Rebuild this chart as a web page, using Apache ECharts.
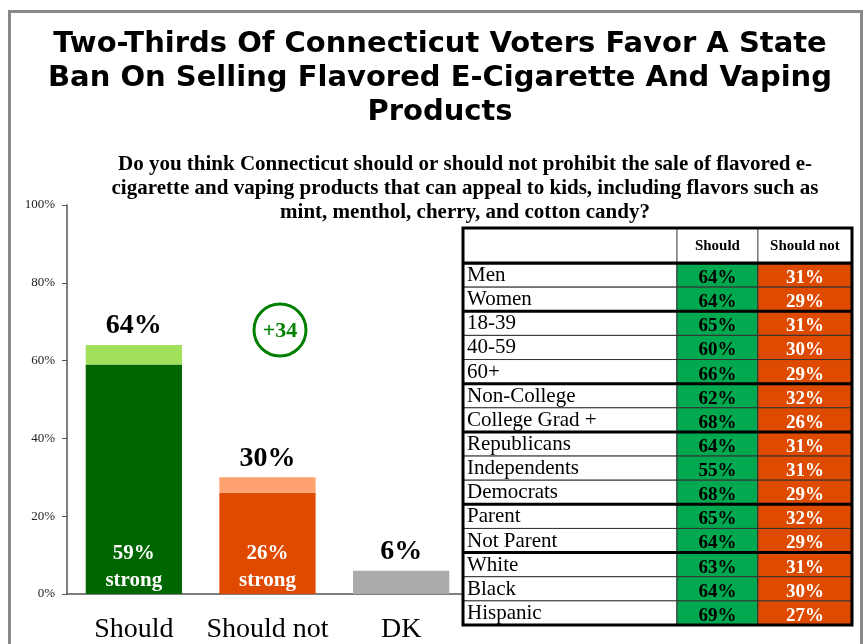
<!DOCTYPE html>
<html><head><meta charset="utf-8">
<script src="https://cdn.jsdelivr.net/npm/echarts@6/dist/echarts.min.js"></script>
<style>html,body{margin:0;padding:0;background:#fff}#c{width:866px;height:644px}</style>
</head><body><div id="c"></div>
<script>
// ---- data ----
var categories = ['Should', 'Should not', 'DK'];
var totals = [64, 30, 6];
var strong = [59, 26, null];
var yTickLabels = ['0%', '20%', '40%', '60%', '80%', '100%'];
var tableHeader = ['Should', 'Should not'];
var rowLabels = ['Men', 'Women', '18-39', '40-59', '60+', 'Non-College', 'College Grad +', 'Republicans', 'Independents', 'Democrats', 'Parent', 'Not Parent', 'White', 'Black', 'Hispanic'];
var rowShould = [64, 64, 65, 60, 66, 62, 68, 64, 55, 68, 65, 64, 63, 64, 69];
var rowShouldNot = [31, 29, 31, 30, 29, 32, 26, 31, 31, 29, 32, 29, 31, 30, 27];
var groupStarts = [0, 2, 5, 7, 10, 12];

// ---- styles ----
var SERIF = '"Liberation Serif", "Times New Roman", serif';
var baseColors = ['#006600', '#e04a00', '#aaaaaa'];
var softColors = ['#a0e05a', '#ffa270', '#aaaaaa'];
var cellGreen = '#00a84f', cellRed = '#dd4a00';

var chart = echarts.init(document.getElementById('c'), null, {renderer: 'canvas'});

var baseData = categories.map(function (c, i) {
  var hasStrong = strong[i] != null;
  var v = hasStrong ? strong[i] : totals[i];
  var item = {value: v, itemStyle: {color: baseColors[i]}};
  if (hasStrong) {
    item.label = {show: true, position: 'insideBottom', distance: 0,
      formatter: strong[i] + '%\nstrong', color: '#fff', fontFamily: SERIF,
      fontWeight: 'bold', fontSize: 21, lineHeight: 27};
  } else {
    item.label = {show: true, position: 'top', distance: 5,
      formatter: totals[i] + '%', color: '#000', fontFamily: SERIF,
      fontWeight: 'bold', fontSize: 28};
  }
  return item;
});
var softData = categories.map(function (c, i) {
  if (strong[i] == null) return null;
  return {value: totals[i] - strong[i], itemStyle: {color: softColors[i]},
    label: {show: true, position: 'top', distance: 5, formatter: totals[i] + '%',
      color: '#000', fontFamily: SERIF, fontWeight: 'bold', fontSize: 28}};
});

var tableData = rowLabels.map(function (l, i) { return [0, i, rowShould[i], rowShouldNot[i]]; });
var colFrac = [0, 0.550, 0.758, 1];

function renderRow(params, api) {
  var cs = params.coordSys;
  var i = api.value(1);
  var c = api.coord([0, i]);
  var h = api.size([0, 1])[1];
  var top = c[1] - h / 2;
  var xs = colFrac.map(function (f) { return cs.x + f * cs.width; });
  var children = [];
  var fills = ['#ffffff', cellGreen, cellRed];
  for (var k = 0; k < 3; k++) {
    children.push({type: 'rect', shape: {x: xs[k], y: top, width: xs[k + 1] - xs[k], height: h},
      style: {fill: fills[k], stroke: '#333', lineWidth: 1}});
  }
  children.push({type: 'text', style: {x: xs[0] + 4, y: c[1] + 0.5, text: rowLabels[i],
    fontFamily: SERIF, fontSize: 21, fill: '#000', verticalAlign: 'middle', align: 'left'}});
  children.push({type: 'text', style: {x: (xs[1] + xs[2]) / 2, y: c[1] + 3, text: api.value(2) + '%',
    fontFamily: SERIF, fontWeight: 'bold', fontSize: 19, fill: '#000', verticalAlign: 'middle', align: 'center'}});
  children.push({type: 'text', style: {x: (xs[2] + xs[3]) / 2, y: c[1] + 3, text: api.value(3) + '%',
    fontFamily: SERIF, fontWeight: 'bold', fontSize: 19, fill: '#fff', verticalAlign: 'middle', align: 'center'}});
  if (groupStarts.indexOf(i) >= 0) {
    children.push({type: 'line', shape: {x1: xs[0], y1: top, x2: xs[3], y2: top},
      style: {stroke: '#000', lineWidth: 3}});
  }
  return {type: 'group', children: children};
}

var option = {
  backgroundColor: '#fff',
  animation: false,
  title: [{
    text: 'Two-Thirds Of Connecticut Voters Favor A State\nBan On Selling Flavored E-Cigarette And Vaping\nProducts',
    left: 440, top: 27, textAlign: 'center', padding: 0,
    textStyle: {fontFamily: '"DejaVu Sans", sans-serif', fontWeight: 'bold',
      fontSize: 29, lineHeight: 34, color: '#000'}
  }, {
    text: 'Do you think Connecticut should or should not prohibit the sale of flavored e-\ncigarette and vaping products that can appeal to kids, including flavors such as\nmint, menthol, cherry, and cotton candy?',
    left: 465, top: 153, textAlign: 'center', padding: 0,
    textStyle: {fontFamily: SERIF, fontWeight: 'bold', fontSize: 21, lineHeight: 24, color: '#000', align: 'center'}
  }],
  grid: [
    {left: 67, top: 205, width: 401, height: 390},
    {left: 463, top: 263, width: 389, height: 362}
  ],
  xAxis: [{
    gridIndex: 0, type: 'category', data: categories,
    axisLine: {lineStyle: {color: '#555', width: 1.5}},
    axisTick: {show: false},
    axisLabel: {fontFamily: SERIF, fontSize: 28, color: '#000', margin: 22, interval: 0, hideOverlap: false}
  }, {
    gridIndex: 1, type: 'value', min: 0, max: 1, show: false
  }],
  yAxis: [{
    gridIndex: 0, type: 'value', min: 0, max: 100, interval: 20,
    axisLine: {show: true, lineStyle: {color: '#555', width: 1.5}},
    axisTick: {show: true, length: 5, lineStyle: {color: '#555'}},
    splitLine: {show: false},
    axisLabel: {fontFamily: SERIF, fontSize: 13, color: '#222', margin: 12,
      formatter: function (v) { return yTickLabels[v / 20]; }}
  }, {
    gridIndex: 1, type: 'category', data: rowLabels, inverse: true, show: false
  }],
  series: [{
    type: 'bar', xAxisIndex: 0, yAxisIndex: 0, stack: 'v', barWidth: '72%',
    data: baseData
  }, {
    type: 'bar', xAxisIndex: 0, yAxisIndex: 0, stack: 'v', barWidth: '72%',
    data: softData
  }, {
    type: 'custom', xAxisIndex: 1, yAxisIndex: 1, renderItem: renderRow,
    data: tableData, z: 5
  }],
  graphic: [
    {type: 'rect', z: 100, shape: {x: 9.5, y: 11.5, width: 852, height: 700},
      style: {fill: 'none', stroke: '#888', lineWidth: 3}},
    {type: 'circle', z: 50, shape: {cx: 280, cy: 330, r: 26},
      style: {fill: '#fff', stroke: '#008000', lineWidth: 3}},
    {type: 'text', z: 51, x: 280, y: 331, style: {text: '+' + (totals[0] - totals[1]),
      fontFamily: SERIF, fontWeight: 'bold', fontSize: 22, fill: '#008000', align: 'center', verticalAlign: 'middle'}},
    {type: 'rect', z: 60, shape: {x: 463, y: 228, width: 389, height: 35},
      style: {fill: '#fff', stroke: '#333', lineWidth: 1}},
    {type: 'line', z: 60, shape: {x1: 463 + 389 * 0.550, y1: 228, x2: 463 + 389 * 0.550, y2: 263},
      style: {stroke: '#333', lineWidth: 1}},
    {type: 'line', z: 60, shape: {x1: 463 + 389 * 0.758, y1: 228, x2: 463 + 389 * 0.758, y2: 263},
      style: {stroke: '#333', lineWidth: 1}},
    {type: 'text', z: 61, x: 463 + 389 * 0.654, y: 246, style: {text: tableHeader[0],
      fontFamily: SERIF, fontWeight: 'bold', fontSize: 15, fill: '#000', align: 'center', verticalAlign: 'middle'}},
    {type: 'text', z: 61, x: 463 + 389 * 0.879, y: 246, style: {text: tableHeader[1],
      fontFamily: SERIF, fontWeight: 'bold', fontSize: 15, fill: '#000', align: 'center', verticalAlign: 'middle'}},
    {type: 'rect', z: 70, shape: {x: 463, y: 228, width: 389, height: 397},
      style: {fill: 'none', stroke: '#000', lineWidth: 3}},
    {type: 'line', z: 70, shape: {x1: 463, y1: 263, x2: 852, y2: 263},
      style: {stroke: '#000', lineWidth: 3}}
  ]
};
chart.setOption(option);
</script>
</body></html>
